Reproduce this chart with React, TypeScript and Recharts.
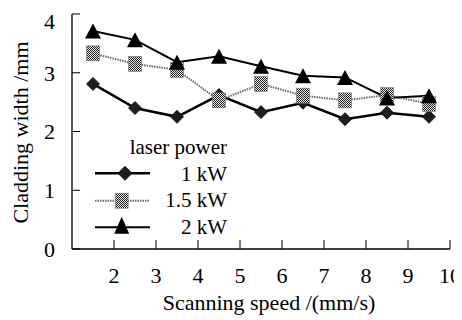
import React from 'react';
import { LineChart, Line, XAxis, YAxis, Legend, Label } from 'recharts';

const speeds = [1.5, 2.5, 3.5, 4.5, 5.5, 6.5, 7.5, 8.5, 9.5];
const width1kW = [2.81, 2.4, 2.25, 2.62, 2.33, 2.49, 2.21, 2.32, 2.25];
const width15kW = [3.33, 3.15, 3.05, 2.53, 2.81, 2.61, 2.53, 2.62, 2.47];
const width2kW = [3.71, 3.56, 3.18, 3.28, 3.11, 2.95, 2.92, 2.57, 2.61];
const seriesNames = ['1 kW', '1.5 kW', '2 kW'];
const xTicks = [2, 3, 4, 5, 6, 7, 8, 9, 10];
const yTicks = [0, 1, 2, 3, 4];
const legendTitle = 'laser power';
const xTitle = 'Scanning speed /(mm/s)';
const yTitle = 'Cladding width /mm';

const data = speeds.map((s, i) => ({
  speed: s,
  p1: width1kW[i],
  p15: width15kW[i],
  p2: width2kW[i],
}));

const FONT = '"Liberation Serif", "Times New Roman", serif';

const Diamond = ({ cx, cy, r = 6.5 }: { cx: number; cy: number; r?: number }) => (
  <polygon
    points={`${cx},${cy - r} ${cx + r},${cy} ${cx},${cy + r} ${cx - r},${cy}`}
    fill="#1e1e1e"
    stroke="#000"
    strokeWidth={0.8}
  />
);

const CheckSquare = ({ cx, cy, w = 13, h = 15 }: { cx: number; cy: number; w?: number; h?: number }) => (
  <g>
    <defs>
      <pattern id="chk" width="2" height="2" patternUnits="userSpaceOnUse">
        <rect width="2" height="2" fill="#e6e6e6" />
        <rect width="1" height="1" fill="#222" />
        <rect x="1" y="1" width="1" height="1" fill="#222" />
      </pattern>
    </defs>
    <rect x={cx - w / 2} y={cy - h / 2} width={w} height={h} fill="url(#chk)" stroke="#777" strokeWidth={0.6} />
  </g>
);

const Triangle = ({ cx, cy, w = 16, h = 15 }: { cx: number; cy: number; w?: number; h?: number }) => (
  <polygon
    points={`${cx},${cy - h / 2} ${cx + w / 2},${cy + h / 2} ${cx - w / 2},${cy + h / 2}`}
    fill="#000"
  />
);

const dot1 = (p: any) => <Diamond key={`d1-${p.index}`} cx={p.cx} cy={p.cy} />;
const dot15 = (p: any) => <CheckSquare key={`d15-${p.index}`} cx={p.cx} cy={p.cy} />;
const dot2 = (p: any) => <Triangle key={`d2-${p.index}`} cx={p.cx} cy={p.cy} />;

const renderLegend = (props: any) => {
  const payload = (props.payload || []) as any[];
  const rowLine = [37.3, 64.7, 91.3];
  const rowBase = [44.7, 71.3, 97.8];
  return (
    <svg width={160} height={110} style={{ display: 'block', overflow: 'visible' }}>
      <text x={139} y={18} textAnchor="end" fontFamily={FONT} fontSize={21} fill="#000">
        {legendTitle}
      </text>
      {payload.map((entry, i) => {
        const y = rowLine[i];
        const key = entry.dataKey;
        let line;
        let marker;
        if (key === 'p1') {
          line = <line x1={7} x2={62} y1={y} y2={y} stroke="#000" strokeWidth={2.5} />;
          marker = <Diamond cx={37} cy={y} r={7} />;
        } else if (key === 'p15') {
          line = <line x1={7} x2={62} y1={y} y2={y} stroke="#6a6a6a" strokeWidth={2} strokeDasharray="1.5 1" />;
          marker = <CheckSquare cx={33.7} cy={y} w={13} h={15} />;
        } else {
          line = <line x1={7} x2={62} y1={y} y2={y} stroke="#000" strokeWidth={2} />;
          marker = <Triangle cx={33.7} cy={y - 2} w={15} h={17} />;
        }
        return (
          <g key={`leg-${i}`}>
            {line}
            {marker}
            <text x={139} y={rowBase[i]} textAnchor="end" fontFamily={FONT} fontSize={21} fill="#000">
              {entry.value}
            </text>
          </g>
        );
      })}
    </svg>
  );
};

const tickStyle = { fontFamily: FONT, fontSize: 22, fill: '#000' };

export default function App() {
  return (
    <div style={{ width: 480, height: 312 }}>
      <style>{'html{overflow:hidden}'}</style>
      <LineChart width={480} height={312} data={data} margin={{ top: 6, right: 38, bottom: 0, left: 0 }}>
        <XAxis
          dataKey="speed"
          type="number"
          domain={[1, 10]}
          ticks={xTicks}
          height={71}
          tickSize={-9}
          tickMargin={27}
          tick={tickStyle}
          axisLine={{ stroke: '#000', strokeWidth: 1.3 }}
          tickLine={{ stroke: '#000', strokeWidth: 1 }}
        >
          <Label
            content={() => (
              <text x={261} y={302} textAnchor="middle" fontFamily={FONT} fontSize={22} fill="#000">
                {xTitle}
              </text>
            )}
          />
        </XAxis>
        <YAxis
          type="number"
          domain={[0, 4]}
          ticks={yTicks}
          width={64}
          tickSize={-8}
          tickMargin={25}
          tick={tickStyle}
          axisLine={{ stroke: '#000', strokeWidth: 1.3 }}
          tickLine={{ stroke: '#000', strokeWidth: 1 }}
        >
          <Label
            content={() => (
              <text
                x={20}
                y={124.5}
                transform="rotate(-90, 20, 124.5)"
                textAnchor="middle"
                fontFamily={FONT}
                fontSize={22}
                fill="#000"
              >
                {yTitle}
              </text>
            )}
          />
        </YAxis>
        <Legend
          layout="vertical"
          align="center"
          verticalAlign="middle"
          content={renderLegend}
          wrapperStyle={{ left: 80, top: 128, width: 160, height: 110 }}
        />
        <Line
          dataKey="p1"
          name={seriesNames[0]}
          stroke="#000"
          strokeWidth={2.5}
          dot={dot1}
          activeDot={false}
          isAnimationActive={false}
        />
        <Line
          dataKey="p15"
          name={seriesNames[1]}
          stroke="#6a6a6a"
          strokeWidth={2}
          strokeDasharray="1.5 1"
          dot={dot15}
          activeDot={false}
          isAnimationActive={false}
        />
        <Line
          dataKey="p2"
          name={seriesNames[2]}
          stroke="#000"
          strokeWidth={2}
          dot={dot2}
          activeDot={false}
          isAnimationActive={false}
        />
      </LineChart>
    </div>
  );
}
